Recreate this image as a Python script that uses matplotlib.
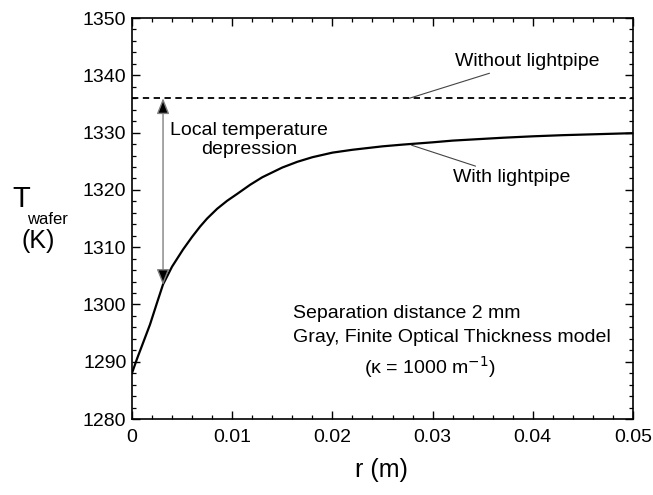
import matplotlib
matplotlib.use("Agg")
import matplotlib.pyplot as plt
from matplotlib.ticker import MultipleLocator, FuncFormatter

plt.rcParams["font.family"] = ["Liberation Sans", "DejaVu Sans"]

# radial position (m) and wafer temperature (K)
r_with = [0.0, 0.0005, 0.001, 0.0018, 0.0025, 0.0031, 0.004, 0.0051, 0.006, 0.0068,
          0.0075, 0.0085, 0.0095, 0.0105, 0.0118, 0.013, 0.015, 0.0165, 0.018, 0.020,
          0.022, 0.025, 0.027, 0.030, 0.032, 0.035, 0.037, 0.040, 0.043, 0.045, 0.050]
t_with = [1288.0, 1290.5, 1292.8, 1296.5, 1300.3, 1303.5, 1306.6, 1309.6, 1311.8, 1313.6,
          1315.0, 1316.7, 1318.1, 1319.3, 1320.9, 1322.2, 1323.9, 1324.9, 1325.7, 1326.5,
          1327.0, 1327.6, 1327.9, 1328.3, 1328.6, 1328.9, 1329.1, 1329.35, 1329.55, 1329.65, 1329.9]
t_without = 1336.0
arrow_r = 0.0031
arrow_low = 1303.4

fig = plt.figure(figsize=(6.53, 4.95), dpi=100)
ax = fig.add_axes([0.2021, 0.1535, 0.7673, 0.8101])

ax.plot(r_with, t_with, color="black", lw=1.6)
ax.axhline(t_without, color="black", lw=1.3, ls=(0, (3.5, 2.5)))

ax.annotate("", xy=(arrow_r, arrow_low), xytext=(arrow_r, t_without),
            arrowprops=dict(arrowstyle="<|-|>,head_length=0.4,head_width=0.16",
                            lw=1.0, mutation_scale=24, fc="black", ec="gray",
                            shrinkA=0, shrinkB=0))

ax.text(0.01168, 1328.7, "Local temperature\ndepression", ha="center", va="center",
        fontsize=14, linespacing=1.15)

ax.annotate("Without lightpipe", xy=(0.0277, t_without), xytext=(0.0322, 1342.4),
            fontsize=14, va="center", ha="left",
            arrowprops=dict(arrowstyle="-", color="#444444", lw=0.8, shrinkA=1, shrinkB=0))
ax.annotate("With lightpipe", xy=(0.0279, 1327.8), xytext=(0.0320, 1322.1),
            fontsize=14, va="center", ha="left",
            arrowprops=dict(arrowstyle="-", color="#444444", lw=0.8, shrinkA=1, shrinkB=0))

ax.text(0.0161, 1298.5, "Separation distance 2 mm", ha="left", va="center", fontsize=14)
ax.text(0.0161, 1294.3, "Gray, Finite Optical Thickness model", ha="left", va="center", fontsize=14)
ax.text(0.0297, 1289.1, "(κ = 1000 m$^{-1}$)", ha="center", va="center", fontsize=14)

ax.set_xlim(0, 0.05)
ax.set_ylim(1280, 1350)
ax.xaxis.set_major_locator(MultipleLocator(0.01))
ax.xaxis.set_minor_locator(MultipleLocator(0.002))
ax.yaxis.set_major_locator(MultipleLocator(10))
ax.yaxis.set_minor_locator(MultipleLocator(2))
ax.xaxis.set_major_formatter(FuncFormatter(lambda v, p: "0" if abs(v) < 1e-9 else f"{v:.2f}"))
ax.tick_params(which="both", direction="in", top=True, right=True, labelsize=14)
ax.tick_params(which="major", length=6, width=1.0)
ax.tick_params(which="minor", length=3, width=0.9)
ax.tick_params(axis="x", pad=7)
ax.tick_params(axis="y", pad=4)
for s in ax.spines.values():
    s.set_linewidth(1.2)

fig.text(12 / 653, 1 - 199 / 495, "T", fontsize=21, ha="left", va="center")
fig.text(27 / 653, 1 - 219 / 495, "wafer", fontsize=12, ha="left", va="center")
fig.text(38 / 653, 1 - 241 / 495, "(K)", fontsize=18, ha="center", va="center")
fig.text(381 / 653, 1 - 470 / 495, "r (m)", fontsize=18, ha="center", va="center")

fig.savefig("out.png", dpi=100)
